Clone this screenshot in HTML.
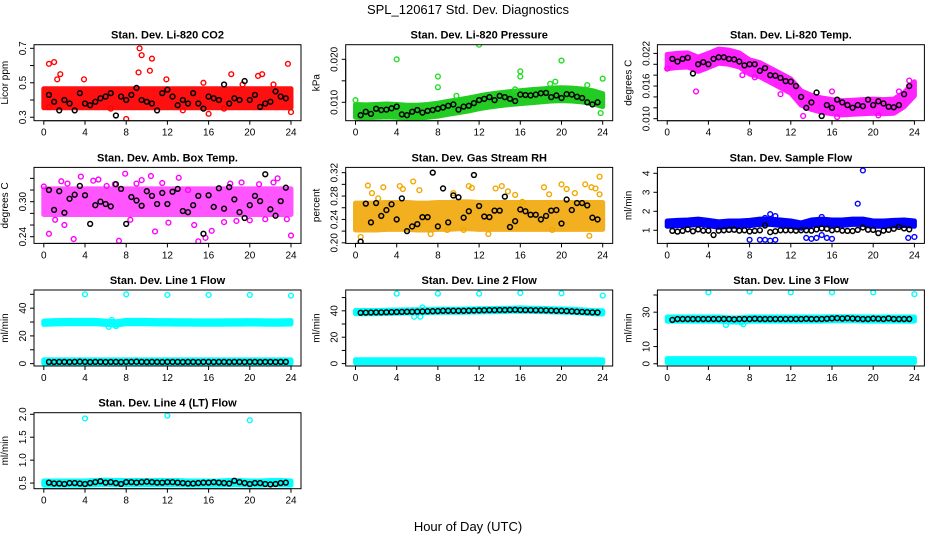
<!DOCTYPE html>
<html><head><meta charset="utf-8">
<style>
html,body{margin:0;padding:0;background:#fff;}
svg{display:block;font-family:"Liberation Sans",Arial,sans-serif;}
</style></head>
<body>
<svg id="chart" width="936" height="540" viewBox="0 0 936 540">
<text x="468" y="14" text-anchor="middle" font-size="13">SPL_120617  Std. Dev. Diagnostics</text>
<text x="468" y="531" text-anchor="middle" font-size="13">Hour of Day (UTC)</text>
</svg>
<script>
// ---- data ----
const hours = [0,1,2,3,4,5,6,7,8,9,10,11,12,13,14,15,16,17,18,19,20,21,22,23,24];
const xTicks = [0,4,8,12,16,20,24];
const blackTimes = [];
for (let i = 1; i <= 47; i++) blackTimes.push(i * 0.5);

const co2Mid = [0.41,0.41,0.41,0.41,0.41,0.41,0.41,0.41,0.41,0.41,0.41,0.41,0.41,0.41,0.41,0.41,0.41,0.41,0.41,0.41,0.41,0.41,0.41,0.41,0.41];
const co2Spread = 0.055;
const co2Black = [0.43,0.39,0.34,0.40,0.38,0.34,0.44,0.38,0.37,0.39,0.41,0.42,0.44,0.31,0.42,0.40,0.43,0.47,0.40,0.39,0.38,0.34,0.44,0.46,0.42,0.37,0.40,0.38,0.44,0.38,0.35,0.42,0.41,0.40,0.49,0.38,0.41,0.40,0.51,0.40,0.43,0.36,0.38,0.39,0.45,0.42,0.41];
const co2Out = [[0.5,0.61],[1,0.62],[1.6,0.55],[1.3,0.52],[3.9,0.52],[9.3,0.70],[9.5,0.66],[9.2,0.56],[10.3,0.57],[10.5,0.64],[11.9,0.52],[8.0,0.29],[16.0,0.32],[18.2,0.55],[20.8,0.54],[21.2,0.55],[23.7,0.61],[24,0.33],[22.3,0.49],[15.5,0.50],[0.5,0.36],[6.5,0.35],[13.5,0.34],[17.5,0.35],[19.3,0.49]];

const presMid = [0.0080,0.0079,0.0080,0.0081,0.0080,0.0078,0.0078,0.0080,0.0083,0.0087,0.0091,0.0095,0.0100,0.0104,0.0107,0.0110,0.0112,0.0114,0.0116,0.0118,0.0119,0.0118,0.0116,0.0112,0.0105];
const presSpread = 0.0015;
const presBlack = [0.0070,0.0078,0.0073,0.0085,0.0082,0.0083,0.0086,0.0090,0.0072,0.0070,0.0078,0.0082,0.0076,0.0080,0.0082,0.0085,0.0088,0.0092,0.0095,0.0083,0.0090,0.0092,0.0098,0.0105,0.0108,0.0112,0.0105,0.0115,0.0112,0.0108,0.0103,0.0118,0.0117,0.0116,0.0118,0.0121,0.0122,0.0112,0.0116,0.0110,0.0119,0.0118,0.0113,0.0110,0.0100,0.0095,0.0100];
const presOut = [[4,0.0200],[12,0.0234],[8,0.0160],[8,0.0135],[16,0.0172],[16,0.0160],[20,0.0197],[24,0.0155],[23.8,0.0075],[0,0.0105],[19.4,0.0148],[9.8,0.0115],[18.9,0.0143],[22.5,0.0140],[15.5,0.0130]];

const tempMid = [0.0205,0.0207,0.0208,0.0200,0.0207,0.0215,0.0213,0.0208,0.0195,0.0190,0.0180,0.0170,0.0160,0.0138,0.0130,0.0125,0.0122,0.0120,0.0121,0.0122,0.0123,0.0122,0.0123,0.0135,0.0155];
const tempSpread = 0.0013;
const tempBlack = [0.0210,0.0205,0.0210,0.0212,0.0183,0.0200,0.0204,0.0200,0.0210,0.0213,0.0213,0.0210,0.0209,0.0205,0.0198,0.0200,0.0200,0.0188,0.0193,0.0180,0.0179,0.0175,0.0169,0.0168,0.0160,0.0140,0.0120,0.0130,0.0148,0.0105,0.0125,0.0120,0.0135,0.0130,0.0125,0.0120,0.0125,0.0123,0.0135,0.0125,0.0132,0.0128,0.0122,0.0121,0.0125,0.0145,0.0160];
const tempOut = [[0,0.0192],[2.8,0.0150],[8.5,0.0176],[11,0.0145],[13.2,0.0105],[16,0.0150],[16.5,0.0103],[20.5,0.0106],[22.5,0.0150],[23.5,0.0170],[7.3,0.0180]];

const ambMid = [0.300,0.300,0.300,0.300,0.300,0.300,0.300,0.300,0.300,0.300,0.300,0.300,0.300,0.300,0.300,0.300,0.300,0.300,0.300,0.300,0.300,0.300,0.300,0.300,0.300];
const ambSpread = 0.022;
const ambBlack = [0.320,0.286,0.318,0.281,0.305,0.312,0.327,0.311,0.262,0.294,0.300,0.296,0.292,0.330,0.322,0.262,0.308,0.302,0.293,0.318,0.310,0.296,0.315,0.296,0.317,0.322,0.284,0.282,0.294,0.310,0.245,0.311,0.291,0.323,0.288,0.325,0.304,0.282,0.272,0.294,0.310,0.301,0.347,0.287,0.276,0.301,0.324];
const ambOut = [[0,0.326],[0.5,0.245],[1.1,0.269],[1.7,0.335],[2.3,0.331],[2.9,0.236],[3.6,0.343],[4.8,0.336],[5.3,0.338],[6.1,0.327],[6.9,0.330],[7.3,0.233],[7.9,0.348],[8.4,0.269],[9.0,0.331],[9.5,0.337],[10.4,0.344],[10.8,0.249],[11.5,0.332],[13.1,0.341],[14.0,0.320],[15.0,0.232],[15.7,0.238],[16.3,0.250],[17.5,0.265],[18.1,0.331],[18.7,0.267],[19.2,0.333],[20.0,0.268],[20.9,0.330],[21.5,0.270],[22.3,0.333],[22.7,0.340],[23.6,0.270],[24,0.242],[2.0,0.260],[12.1,0.264],[14.6,0.260]];

const rhMid = [0.245,0.245,0.245,0.246,0.246,0.246,0.245,0.245,0.246,0.246,0.247,0.247,0.246,0.246,0.246,0.246,0.246,0.246,0.246,0.246,0.246,0.246,0.246,0.246,0.246];
const rhSpread = 0.023;
const rhOut = [[1.2,0.298],[1.6,0.285],[2.7,0.295],[4.3,0.297],[4.6,0.292],[5.6,0.305],[6.2,0.290],[7.3,0.215],[8.9,0.222],[9.5,0.285],[10.5,0.222],[11.0,0.297],[11.3,0.294],[13.6,0.293],[14.2,0.297],[14.8,0.288],[15.5,0.282],[16.2,0.270],[18.3,0.295],[18.8,0.283],[20.0,0.300],[20.5,0.292],[21.3,0.285],[22.3,0.300],[22.9,0.295],[23.3,0.293],[23.7,0.313],[0.5,0.210],[22.7,0.212],[19.1,0.222],[23.7,0.283],[2.2,0.276],[12.9,0.215]];
const rhBlack = [0.202,0.267,0.235,0.268,0.246,0.256,0.266,0.240,0.276,0.220,0.228,0.232,0.244,0.244,0.320,0.228,0.293,0.235,0.281,0.278,0.243,0.254,0.316,0.263,0.245,0.244,0.255,0.255,0.279,0.227,0.237,0.257,0.254,0.248,0.248,0.240,0.246,0.255,0.256,0.233,0.274,0.256,0.268,0.268,0.264,0.243,0.240];

const flowMid = [1.35,1.38,1.40,1.45,1.38,1.30,1.35,1.35,1.38,1.45,1.45,1.40,1.35,1.25,1.40,1.45,1.40,1.40,1.45,1.45,1.35,1.35,1.38,1.40,1.35];
const flowSpread = 0.14;
const flowBlack = [0.97,0.93,0.97,1.05,0.95,1.05,0.98,0.98,0.75,0.98,1.0,1.02,1.03,0.98,1.0,0.94,0.97,1.0,1.25,0.9,0.95,1.0,1.0,1.0,0.98,1.0,1.0,0.98,1.05,1.1,1.08,1.0,1.05,0.98,0.97,0.96,1.02,1.15,1.03,1.02,0.85,0.98,1.02,1.08,1.18,1.1,1.05];
const flowOut = [[19,4.15],[18.5,2.4],[10,1.85],[10.5,1.75],[9.5,1.65],[8,0.5],[9,0.5],[9.5,0.5],[10,0.45],[10.5,0.5],[13.5,0.6],[14,0.55],[14.5,0.6],[15,0.75],[15.5,0.6],[16,0.55],[23.4,0.6],[24,0.65],[15,1.7],[11,1.5]];

const l1Mid = [29.5,29.8,29.9,30.0,30.0,30.0,29.5,29.0,30.0,30.0,30.0,29.8,29.8,29.7,29.7,29.6,29.6,29.6,29.7,29.7,29.8,29.7,29.6,29.6,29.8];
const l1LowMid = [1.5,1.5,1.5,1.5,1.5,1.5,1.5,1.5,1.5,1.5,1.5,1.5,1.5,1.5,1.5,1.5,1.5,1.5,1.5,1.5,1.5,1.5,1.5,1.5,1.5];
const l1Spread = 1.2;
const l1Black = [1.3,1.2,1.3,1.3,1.2,1.3,1.4,1.3,1.2,1.3,1.3,1.2,1.3,1.3,1.2,1.3,1.3,1.4,1.3,1.2,1.3,1.3,1.2,1.3,1.3,1.3,1.2,1.3,1.3,1.2,1.3,1.3,1.2,1.3,1.3,1.2,1.3,1.3,1.2,1.3,1.3,1.2,1.3,1.3,1.2,1.3,1.3];
const l1Out = [[4,50],[8,50],[12,49.5],[16,49.5],[20,49.5],[24,49],[6.3,26.5],[7,27],[6.6,31.5]];

const l2Mid = [39.0,39.0,39.0,39.2,39.4,39.5,39.6,39.8,40.0,40.0,40.0,40.2,40.4,40.5,40.6,40.8,41.0,40.8,40.6,40.4,40.2,40.0,39.5,39.0,38.8];
const l2LowMid = [1.8,1.8,1.8,1.8,1.8,1.8,1.8,1.8,1.8,1.8,1.8,1.8,1.8,1.8,1.8,1.8,1.8,1.8,1.8,1.8,1.8,1.8,1.8,1.8,1.8];
const l2Spread = 1.2;
const l2Black = [38.5,38.6,38.7,38.8,38.8,38.9,39.0,39.1,39.2,39.3,39.3,39.4,39.5,39.6,39.7,39.8,40.0,40.0,40.0,40.0,40.0,40.1,40.2,40.3,40.4,40.5,40.5,40.6,40.6,40.7,40.8,40.6,40.5,40.5,40.4,40.4,40.3,40.2,40.0,40.0,39.8,39.6,39.4,39.2,39.0,38.8,38.7];
const l2Out = [[4,53],[8,53],[12,53],[16,53.5],[20,53.2],[24,51.5],[5.7,35.5],[6.3,35.5],[6.5,42.5]];

const l3Mid = [26.0,26.0,26.0,26.0,26.0,26.0,25.5,25.5,26.0,26.0,26.0,26.0,26.0,26.0,26.0,26.0,26.2,26.2,26.2,26.0,26.0,26.0,26.0,26.0,26.0];
const l3LowMid = [1.8,1.8,1.8,1.8,1.8,1.8,1.8,1.8,1.8,1.8,1.8,1.8,1.8,1.8,1.8,1.8,1.8,1.8,1.8,1.8,1.8,1.8,1.8,1.8,1.8];
const l3Spread = 1.2;
const l3Black = [25.5,26.0,26.0,26.0,26.0,26.0,26.0,26.0,26.0,26.0,26.0,26.0,25.8,26.0,26.0,26.0,26.2,26.0,26.0,26.0,26.0,26.0,26.0,26.0,26.0,26.0,26.2,26.0,26.0,26.0,26.2,26.4,26.5,26.3,26.5,26.3,26.2,26.0,26.0,26.3,26.2,26.0,26.4,26.0,26.0,26.0,26.0];
const l3Out = [[4,41.5],[8,42],[12,41.5],[16,41.5],[20,41.5],[24,40.5],[5.7,22.5],[7.4,23],[7.2,24]];

const l4Mid = [0.50,0.50,0.50,0.50,0.50,0.51,0.52,0.51,0.51,0.51,0.51,0.51,0.51,0.51,0.50,0.50,0.50,0.50,0.51,0.51,0.50,0.50,0.51,0.51,0.50];
const l4Spread = 0.045;
const l4Black = [0.51,0.49,0.49,0.48,0.50,0.50,0.49,0.48,0.50,0.52,0.54,0.51,0.52,0.50,0.48,0.52,0.52,0.51,0.52,0.53,0.52,0.51,0.51,0.52,0.52,0.51,0.50,0.49,0.49,0.50,0.51,0.51,0.52,0.51,0.50,0.49,0.55,0.52,0.50,0.48,0.50,0.50,0.48,0.47,0.48,0.50,0.51];
const l4Out = [[4,1.91],[12,1.97],[20,1.87]];

// ---- layout (not data) ----
const NS = 'http://www.w3.org/2000/svg';
const svg = document.getElementById('chart');
const colLeft = [34, 345.7, 657.4];
const rowTop = [44.7, 167.4, 290, 412.7];
const boxW = 267, boxH = 76;

function mk(tag, attrs, parent) {
  const e = document.createElementNS(NS, tag);
  for (const k in attrs) e.setAttribute(k, attrs[k]);
  (parent || svg).appendChild(e);
  return e;
}

const panels = [
  {key:'co2', title:'Stan. Dev. Li-820 CO2', ylab:'Licor ppm', col:0, row:0, y0:0.280, y1:0.721, ticks:[0.3,0.4,0.5,0.6,0.7], labels:[0.3,0.5,0.7], fmt:v=>v.toFixed(1), color:'#ff0000', fill:'#ff1010', bands:[[co2Mid,co2Spread]], out:co2Out, black:co2Black},
  {key:'pressure', title:'Stan. Dev. Li-820 Pressure', ylab:'kPa', col:1, row:0, y0:0.00572, y1:0.0234, ticks:[0.010,0.015,0.020], labels:[0.010,0.020], fmt:v=>v.toFixed(3), color:'#22dd22', fill:'#22cc22', bands:[[presMid,presSpread]], out:presOut, black:presBlack},
  {key:'temp', title:'Stan. Dev. Li-820 Temp.', ylab:'degrees C', col:2, row:0, y0:0.00963, y1:0.0236, ticks:[0.010,0.012,0.014,0.016,0.018,0.020,0.022], labels:[0.010,0.016,0.022], fmt:v=>v.toFixed(3), color:'#ff00ff', fill:'#ff22ff', bands:[[tempMid,tempSpread]], out:tempOut, black:tempBlack},
  {key:'ambbox', title:'Stan. Dev. Amb. Box Temp.', ylab:'degrees C', col:0, row:1, y0:0.2285, y1:0.3588, ticks:[0.24,0.26,0.28,0.30,0.32,0.34], labels:[0.24,0.30], fmt:v=>v.toFixed(2), color:'#ff00ff', fill:'#ff55ff', bands:[[ambMid,ambSpread]], out:ambOut, black:ambBlack},
  {key:'rh', title:'Stan. Dev. Gas Stream RH', ylab:'percent', col:1, row:1, y0:0.199, y1:0.329, ticks:[0.20,0.22,0.24,0.26,0.28,0.30,0.32], labels:[0.20,0.24,0.28,0.32], fmt:v=>v.toFixed(2), color:'#f0a800', fill:'#f2b020', bands:[[rhMid,rhSpread]], out:rhOut, black:rhBlack},
  {key:'sampleflow', title:'Stan. Dev. Sample Flow', ylab:'ml/min', col:2, row:1, y0:0.31, y1:4.31, ticks:[1,2,3,4], labels:[1,2,3,4], fmt:v=>String(v), color:'#0000ff', fill:'#0000ff', bands:[[flowMid,flowSpread]], out:flowOut, black:flowBlack},
  {key:'line1', title:'Stan. Dev. Line 1 Flow', ylab:'ml/min', col:0, row:2, y0:-1.7, y1:53.1, ticks:[0,10,20,30,40,50], labels:[0,20,40], fmt:v=>String(v), color:'#00ffff', fill:'#00ffff', bands:[[l1Mid,l1Spread],[l1LowMid,l1Spread]], out:l1Out, black:l1Black},
  {key:'line2', title:'Stan. Dev. Line 2 Flow', ylab:'ml/min', col:1, row:2, y0:-1.8, y1:55.75, ticks:[0,10,20,30,40,50], labels:[0,20,40], fmt:v=>String(v), color:'#00ffff', fill:'#00ffff', bands:[[l2Mid,l2Spread],[l2LowMid,l2Spread]], out:l2Out, black:l2Black},
  {key:'line3', title:'Stan. Dev. Line 3 Flow', ylab:'ml/min', col:2, row:2, y0:-1.3, y1:42.9, ticks:[0,10,20,30,40], labels:[0,10,30], fmt:v=>String(v), color:'#00ffff', fill:'#00ffff', bands:[[l3Mid,l3Spread],[l3LowMid,l3Spread]], out:l3Out, black:l3Black},
  {key:'line4', title:'Stan. Dev. Line 4 (LT) Flow', ylab:'ml/min', col:0, row:3, y0:0.377, y1:2.035, ticks:[0.5,1.0,1.5,2.0], labels:[0.5,1.0,1.5,2.0], fmt:v=>v.toFixed(1), color:'#00ffff', fill:'#00ffff', bands:[[l4Mid,l4Spread]], out:l4Out, black:l4Black}
];

panels.forEach(p => {
  const L = colLeft[p.col], T = rowTop[p.row], B = T + boxH;
  const xs = t => L + 9.8 + t * 10.3;
  const ys = v => B - (v - p.y0) / (p.y1 - p.y0) * boxH;
  const g = mk('g', {});
  
  

  const title = mk('text', {x: L + boxW / 2, y: T - 6, 'text-anchor': 'middle', 'font-size': 11, 'font-weight': 'bold'}, g);
  title.textContent = p.title;
  
  

  const yl = mk('text', {x: 0, y: 0, 'text-anchor': 'middle', 'font-size': 10, transform: `translate(${L - 26},${T + boxH / 2}) rotate(-90)`}, g);
  yl.textContent = p.ylab;
  
  

  const cid = 'clip-' + p.key;
  const cp = mk('clipPath', {id: cid}, g);
  mk('rect', {x: L, y: T, width: boxW, height: boxH}, cp);
  const plot = mk('g', {'clip-path': `url(#${cid})`}, g);
  
  

  p.bands.forEach(([mid, sp]) => {
    let d = '';
    hours.forEach((h, i) => { d += (i ? 'L' : 'M') + xs(h).toFixed(1) + ',' + ys(mid[i] + sp).toFixed(1); });
    for (let i = hours.length - 1; i >= 0; i--) d += 'L' + xs(hours[i]).toFixed(1) + ',' + ys(mid[i] - sp).toFixed(1);
    d += 'Z';
    const band = mk('path', {d: d, fill: p.fill, stroke: p.fill, 'stroke-width': 5, 'stroke-linejoin': 'round'}, plot);
    
    
  });
  p.out.forEach(([t, v]) => {
    const c = mk('circle', {cx: xs(t), cy: ys(v), r: 2.4, fill: 'none', stroke: p.color, 'stroke-width': 1.4}, plot);
    
    
  });
  p.black.forEach((v, i) => {
    const c = mk('circle', {cx: xs(blackTimes[i]), cy: ys(v), r: 2.4, fill: 'none', stroke: '#000', 'stroke-width': 1.5}, plot);
    
    
  });

  const box = mk('rect', {x: L, y: T, width: boxW, height: boxH, fill: 'none', stroke: '#000', 'stroke-width': 1}, g);
  
  

  const xa = mk('g', {}, g);
  
  
  mk('line', {x1: xs(xTicks[0]), x2: xs(xTicks[xTicks.length - 1]), y1: B, y2: B, stroke: '#000'}, xa);
  xTicks.forEach(t => {
    mk('line', {x1: xs(t), x2: xs(t), y1: B, y2: B + 4, stroke: '#000'}, xa);
    const tl = mk('text', {x: xs(t), y: B + 15, 'text-anchor': 'middle', 'font-size': 10}, xa);
    tl.textContent = t;
    
    
  });
  const ya = mk('g', {}, g);
  
  
  mk('line', {x1: L, x2: L, y1: ys(p.ticks[0]), y2: ys(p.ticks[p.ticks.length - 1]), stroke: '#000'}, ya);
  p.ticks.forEach(v => mk('line', {x1: L - 4, x2: L, y1: ys(v), y2: ys(v), stroke: '#000'}, ya));
  p.labels.forEach(v => {
    const tl = mk('text', {x: 0, y: 0, 'text-anchor': 'middle', 'font-size': 10, transform: `translate(${L - 8},${ys(v)}) rotate(-90)`}, ya);
    tl.textContent = p.fmt(v);
    
    
  });
});
</script>
</body></html>
